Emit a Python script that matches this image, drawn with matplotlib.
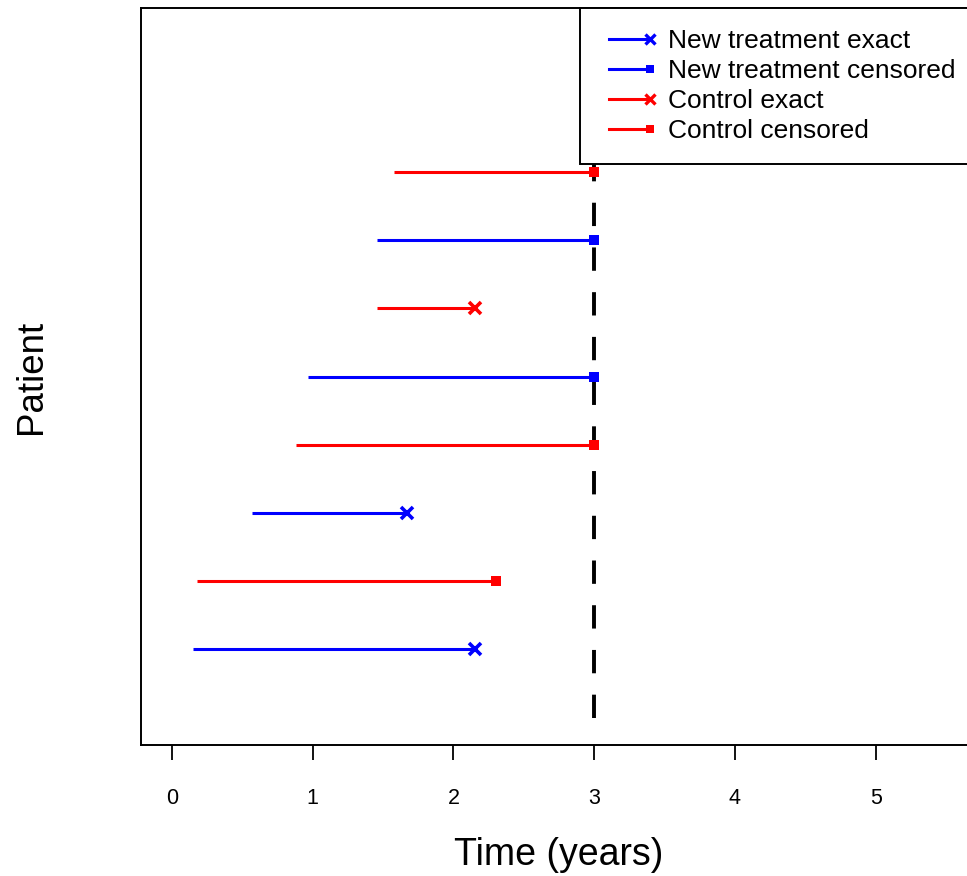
import matplotlib
matplotlib.use("Agg")
import matplotlib.pyplot as plt
from matplotlib.lines import Line2D
from matplotlib.legend_handler import HandlerLine2D

plt.rcParams.update({"font.family": ["Liberation Sans", "DejaVu Sans"]})

# one row per patient, bottom to top
patients = [1, 2, 3, 4, 5, 6, 7, 8]
group = ["new", "control", "new", "control", "new", "control", "new", "control"]
entry = [0.15, 0.18, 0.57, 0.88, 0.97, 1.46, 1.46, 1.58]
exit_time = [2.15, 2.30, 1.67, 3.00, 3.00, 2.15, 3.00, 3.00]
status = ["exact", "censored", "exact", "censored", "censored", "exact", "censored", "censored"]
study_end = 3
x_ticks = [0, 1, 2, 3, 4, 5]

COLORS = {"new": "#0000ff", "control": "#ff0000"}
MARKERS = {"exact": "x", "censored": "s"}
MSIZE = {"exact": 9, "censored": 7.5}


class EndMarker(HandlerLine2D):
    """Legend line with the marker only at its right end."""
    def create_artists(self, *args, **kwargs):
        arts = super().create_artists(*args, **kwargs)
        for a in arts:
            a.set_markevery([len(a.get_xdata()) - 1])
        return arts


fig = plt.figure(figsize=(9.67, 8.76), dpi=100)
ax = fig.add_axes([141 / 967, 131 / 876, 836 / 967, 737 / 876])

ax.plot([study_end, study_end], [0, 10], color="black", lw=2.8, ls=(0, (6, 5.5)), zorder=1)

for p, g, t0, t1, st in zip(patients, group, entry, exit_time, status):
    ax.plot([t0, t1], [p, p], color=COLORS[g], lw=2.2, solid_capstyle="butt", zorder=2)
    ax.plot([t1], [p], ls="none", marker=MARKERS[st], ms=MSIZE[st],
            mew=2.6 if st == "exact" else 0, color=COLORS[g], zorder=3)

ax.set_xlim(-0.22, 5.72)
ax.set_ylim(-0.4, 10.4)
ax.set_xticks(x_ticks)
ax.set_xticklabels([str(t) for t in x_ticks], fontsize=15.5)
ax.set_yticks([])
ax.tick_params(axis="x", length=11, width=1.3, pad=20)
for s in ax.spines.values():
    s.set_linewidth(1.4)
ax.set_xlabel("Time (years)", fontsize=27, labelpad=20)
ax.set_ylabel("Patient", fontsize=26.5, labelpad=66)

handles = []
labels = []
for g, gname in [("new", "New treatment"), ("control", "Control")]:
    for st in ["exact", "censored"]:
        handles.append(Line2D([], [], color=COLORS[g], lw=2.2, marker=MARKERS[st],
                              ms=MSIZE[st] * 0.85, mew=2.4 if st == "exact" else 0))
        labels.append(f"{gname} {st}")

leg = ax.legend(handles, labels, loc="upper right", fontsize=19, numpoints=2,
                handler_map={Line2D: EndMarker()},
                borderaxespad=0, borderpad=0.8, labelspacing=0.23,
                handlelength=2.14, handletextpad=0.4, fancybox=False,
                framealpha=1, edgecolor="black")
leg.get_frame().set_linewidth(1.4)
leg.set_zorder(5)

fig.savefig("out.png", dpi=100)
